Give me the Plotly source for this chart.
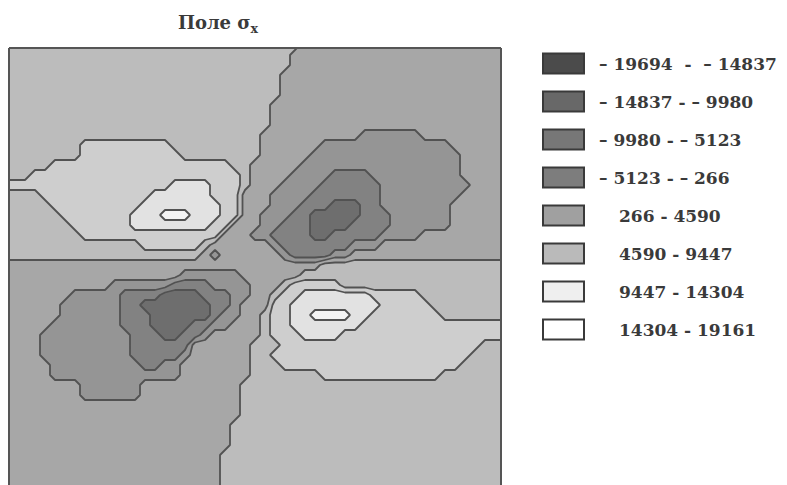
import plotly.graph_objects as go

# ---------------- data ----------------
title_text = "<b>Поле σ<sub>x</sub></b>"

# class boundaries of the stress field (legend)
level_bounds = [-19694, -14837, -9980, -5123, -266, 4590, 9447, 14304, 19161]

legend_labels = [
    "– 19694\u00a0\u00a0-\u00a0\u00a0– 14837",
    "– 14837 - – 9980",
    "– 9980 - – 5123",
    "– 5123 - – 266",
    "266 - 4590",
    "4590 - 9447",
    "9447 - 14304",
    "14304 - 19161",
]

# fill colours of the bands in the field and of the legend swatches
fill_colors = ["#6e6e6e", "#828282", "#959595", "#a7a7a7",
               "#bcbcbc", "#cecece", "#e2e2e2", "#f4f4f4"]
swatch_colors = ["#4b4b4b", "#686868", "#777777", "#7d7d7d",
                 "#a0a0a0", "#bababa", "#efefef", "#ffffff"]

# band index (0..7) of each mesh node, read row by row (top to bottom)
field_rows = [
    "444444444444444444444444444444333333333333333333333",
    "444444444444444444444444444443333333333333333333333",
    "444444444444444444444444444443333333333333333333333",
    "444444444444444444444444444433333333333333333333333",
    "444444444444444444444444444433333333333333333333333",
    "444444444444444444444444444433333333333333333333333",
    "444444444444444444444444444333333333333333333333333",
    "444444444444444444444444444333333333333333333333333",
    "444444444444444444444444444333333333333333333333333",
    "444444444444444444444444443333333333222222333333333",
    "444444445555555554444444443333332222222222222333333",
    "444444445555555555444444443333322222222222222233333",
    "444445555555555555555554433333222222222222222233333",
    "444555555555555555555555433332222111122222222233333",
    "555555555555555556666555433322221111112222222223333",
    "444455555555555666666555333222211111112222222233333",
    "444445555555556666666655333222111000112222222333333",
    "444444555555566677766655332221100000111222222333333",
    "444444455555566666666553332211100001111222222333333",
    "444444445555555555555533322111100111112222333333333",
    "444444444444445555554333333211111112223333333333333",
    "444444444444444444443233333321111223333333333333333",
    "333333333333333333333333333333334444444444444444444",
    "333333333333333333222222333333444444444444444444444",
    "333333333332222221111222233345555544444444444444444",
    "333333322222111100001112233455666666655555444444444",
    "333333222222110000000112333556666666665555544444444",
    "333333222222111000000122334556677776655555554444444",
    "333332222222111000011223334556666666555555555555555",
    "333322222222211100112333334555666655555555555555555",
    "333322222222211111133333344455555555555555555555444",
    "333322222222211111233333344555555555555555555554444",
    "333332222222221122333333344455555555555555555544444",
    "333332222222222222333333344444445555555555554444444",
    "333333332222223333333333444444444444444444444444444",
    "333333332222223333333333444444444444444444444444444",
    "333333333333333333333333444444444444444444444444444",
    "333333333333333333333333444444444444444444444444444",
    "333333333333333333333334444444444444444444444444444",
    "333333333333333333333334444444444444444444444444444",
    "333333333333333333333334444444444444444444444444444",
    "333333333333333333333344444444444444444444444444444",
    "333333333333333333333344444444444444444444444444444",
    "333333333333333333333344444444444444444444444444444",
    "333333333333333333333344444444444444444444444444444",
]

# ---------------- build the figure ----------------
n_cols = max(len(r) for r in field_rows)
rows = [r.ljust(n_cols, r[-1]) for r in field_rows]
band_mid = [(a + b) / 2 for a, b in zip(level_bounds[:-1], level_bounds[1:])]
z = [[band_mid[int(c)] for c in r] for r in rows]
xs = list(range(n_cols))
ys = list(range(len(rows)))

n_bands = len(fill_colors)
step = (level_bounds[-1] - level_bounds[0]) / n_bands
colorscale = [[k / (n_bands - 1), c] for k, c in enumerate(fill_colors)]

fig = go.Figure()
fig.add_trace(go.Contour(
    z=z, x=xs, y=ys,
    autocontour=False,
    contours=dict(start=level_bounds[1], end=level_bounds[-2] + step * 0.05, size=step,
                  coloring="fill", showlines=True),
    colorscale=colorscale,
    line=dict(color="#525252", width=1.8, smoothing=0),
    showscale=False,
    hoverinfo="skip",
))

# page layout (the page body adds an 8 px offset to the figure)
W, H = 787, 485
OFF = 8
plot_left, plot_right, plot_top, plot_bottom = 9, 501, 48, 485   # in screenshot pixels
L = plot_left - OFF
T = plot_top - OFF
R = W - (plot_right - OFF)
B = H - (plot_bottom - OFF)
pw, ph = W - L - R, H - T - B


def px(sx):
    return (sx - OFF - L) / pw


def py(sy):
    return (H - B - (sy - OFF)) / ph


border = dict(color="#555555", width=2)
shapes = [
    dict(type="line", xref="paper", yref="paper", x0=0, x1=0, y0=0, y1=1, line=border),
    dict(type="line", xref="paper", yref="paper", x0=0, x1=1, y0=1, y1=1, line=border),
    dict(type="line", xref="paper", yref="paper", x0=1, x1=1, y0=0, y1=1, line=border),
]
annotations = []
row_top, row_gap, sw_h = 63.5, 38.0, 20
for k, (lab, col) in enumerate(zip(legend_labels, swatch_colors)):
    yc = row_top + row_gap * k
    shapes.append(dict(type="rect", xref="paper", yref="paper",
                       x0=px(543), x1=px(584), y0=py(yc + sw_h / 2), y1=py(yc - sw_h / 2),
                       fillcolor=col, line=dict(color="#3a3a3a", width=2)))
    tx = 597 if lab.startswith("–") else 617
    annotations.append(dict(xref="paper", yref="paper", x=px(tx), y=py(yc),
                            xanchor="left", yanchor="middle", showarrow=False,
                            text="<b>" + lab + "</b>",
                            font=dict(family="DejaVu Serif", size=17, color="#3a3a3a")))

fig.update_layout(
    width=W, height=H,
    margin=dict(l=L, r=R, t=T, b=B),
    paper_bgcolor="white", plot_bgcolor="white",
    title=dict(text=title_text, x=(218 - OFF) / W, y=1 - (23 - OFF) / H,
               xref="container", yref="container", xanchor="center", yanchor="middle",
               font=dict(family="DejaVu Serif", size=18, color="#3a3a3a")),
    xaxis=dict(range=[(plot_left - 5) / 10, (plot_right - 5) / 10], showgrid=False,
               zeroline=False, showticklabels=False, ticks="", showline=False),
    yaxis=dict(range=[(plot_bottom - 45) / 10, (plot_top - 45) / 10], showgrid=False,
               zeroline=False, showticklabels=False, ticks="", showline=False),
    shapes=shapes,
    annotations=annotations,
    showlegend=False,
)

fig.write_html("out.html")
